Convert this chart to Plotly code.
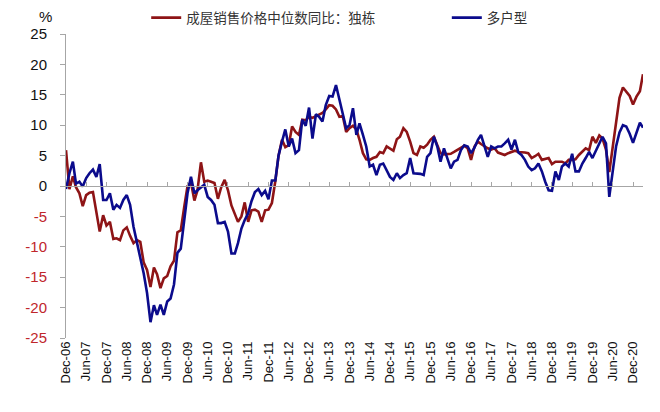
import pandas as pd
import plotly.graph_objects as go

months = pd.date_range("2006-12-01", "2021-03-01", freq="MS")

single_family = [
    5.9, -0.5, 1.6, -0.2, -1.2, -3.3, -1.5, -1.1, -1.0, -4.3, -7.5, -4.8,
    -6.5, -5.9, -8.7, -8.6, -8.9, -7.3, -6.8, -8.2, -9.4, -8.9, -9.2, -12.6,
    -13.8, -16.6, -13.4, -14.5, -16.8, -15.2, -14.8, -13.2, -12.3, -7.6, -7.3, -3.5,
    0.0, 0.6, -2.4, -0.7, 3.9, 0.7, 0.9, 0.7, 0.5, -2.1, -0.2, 1.0,
    -0.7, -3.2, -4.6, -5.9, -5.0, -2.7, -5.9, -4.0, -3.9, -4.2, -5.9, -4.0,
    -3.9, -2.8, 0.8, 5.0, 7.6, 6.4, 6.7, 9.8, 8.9, 8.4, 10.9, 10.8,
    11.4, 11.2, 11.5, 11.7, 12.0, 12.6, 13.3, 13.2, 12.6, 11.4, 11.5, 8.9,
    9.5, 9.9, 9.3, 7.6, 5.4, 4.4, 4.3, 4.6, 4.8, 5.6, 5.4, 6.5,
    6.1, 5.8, 7.7, 8.1, 9.5, 8.9, 7.3, 5.4, 5.1, 6.5, 6.3, 6.8,
    7.6, 8.1, 6.7, 5.4, 5.2, 5.2, 5.3, 5.6, 5.9, 6.3, 6.6, 6.2,
    4.3, 6.5, 7.3, 6.9, 6.5, 6.2, 6.0, 6.2, 5.5, 5.3, 5.1, 5.4,
    5.6, 5.8, 5.6, 5.6, 5.5, 5.4, 4.6, 4.9, 5.3, 4.3, 4.4, 4.6,
    3.6, 4.0, 4.0, 4.0, 3.7, 4.3, 4.3, 4.4, 5.1, 5.6, 6.2, 5.9,
    8.1, 7.1, 8.3, 7.8, 6.0, 2.3, 6.5, 10.5, 14.5, 16.2, 15.6, 14.8,
    13.4, 14.7, 15.6, 18.4,
]

multi_family = [
    -0.5, 2.1, 4.0, 0.4, 0.7, -0.1, 1.3, 2.1, 2.7, 1.5, 3.6, -2.3,
    -2.3, -1.2, -3.9, -3.1, -3.6, -2.3, -1.5, -3.1, -6.7, -9.4, -11.6, -14.4,
    -17.6, -22.4, -19.6, -21.2, -19.5, -21.2, -19.0, -18.5, -16.2, -11.0, -10.3, -5.8,
    -1.2, 1.5, -1.2, -0.7, -0.3, 0.2, -1.8, -2.3, -3.1, -6.1, -6.1, -5.9,
    -7.5, -11.1, -11.1, -9.4, -7.0, -5.6, -4.5, -2.5, -1.0, -0.5, -1.5, -0.8,
    -2.2, 0.9, 0.9, 5.0, 7.3, 9.3, 6.5, 7.8, 5.4, 5.9, 10.9, 9.9,
    12.9, 7.8, 11.8, 11.4, 10.6, 13.3, 14.8, 14.7, 16.6, 14.2, 12.0, 9.5,
    10.0, 12.8, 8.4, 10.3, 8.4, 6.5, 3.2, 3.5, 1.8, 3.5, 3.7, 2.6,
    1.5, 1.0, 2.1, 1.3, 1.8, 2.1, 4.6, 2.1, 2.1, 2.0, 1.8, 4.8,
    5.4, 8.1, 6.5, 4.0, 6.2, 4.6, 2.9, 4.0, 4.3, 5.9, 6.7, 6.5,
    5.4, 6.3, 7.6, 8.4, 6.5, 4.8, 6.5, 6.2, 6.5, 6.5, 7.0, 7.6,
    6.0, 7.6, 5.5, 5.1, 4.3, 3.2, 2.6, 2.9, 3.7, 2.4, 0.7, -0.7,
    -0.8, 2.4, 1.0, 3.2, 3.7, 3.2, 5.3, 2.4, 2.4, 3.7, 4.6, 5.6,
    4.6, 5.9, 7.0, 8.1, 7.0, -1.8, 2.6, 6.5, 8.8, 10.0, 9.8, 8.6,
    7.1, 8.6, 10.4, 9.6,
]

series_names = ["成屋销售价格中位数同比：独栋", "多户型"]
tick_dates = months[::6]
tick_labels = [d.strftime("%b-%y") for d in tick_dates]
y_ticks = [25, 20, 15, 10, 5, 0, -5, -10, -15, -20, -25]
y_labels = [str(v) if v >= 0 else f'<span style="color:#C0262B">{v}</span>' for v in y_ticks]

RED = "#8E1416"
BLUE = "#0B0B8C"

fig = go.Figure()
fig.add_trace(go.Scatter(x=months, y=single_family, mode="lines", name=series_names[0],
                         line=dict(color=RED, width=2.6), legend="legend"))
fig.add_trace(go.Scatter(x=months, y=multi_family, mode="lines", name=series_names[1],
                         line=dict(color=BLUE, width=2.6), legend="legend2"))
# zero-line axis carrying the tick marks
fig.add_trace(go.Scatter(x=[months[0], months[-1]], y=[None, None], xaxis="x2",
                         showlegend=False, hoverinfo="skip"))

legend_font = dict(family="Noto Sans CJK SC", size=13.5, color="#333333")
xr = [months[0], months[-1]]
fig.update_layout(
    width=652, height=404,
    margin=dict(l=58, r=17, t=26, b=74, autoexpand=False),
    paper_bgcolor="white", plot_bgcolor="white",
    font=dict(family="Liberation Sans, Arial, sans-serif", size=14, color="#111111"),
    xaxis=dict(range=xr, tickvals=list(tick_dates), ticktext=tick_labels, tickangle=-90,
               showgrid=False, zeroline=False, showline=False, ticks="",
               tickfont=dict(size=13, color="#111111")),
    xaxis2=dict(range=xr, overlaying="x", anchor="free", position=0.5,
                tickvals=list(tick_dates), showticklabels=False, showgrid=False,
                zeroline=False, showline=True, linecolor="#A6A6A6", linewidth=1,
                ticks="inside", ticklen=4, tickcolor="#A6A6A6"),
    yaxis=dict(range=[-25, 25], tickvals=y_ticks, ticktext=y_labels, showgrid=False,
               zeroline=False, showline=True, linecolor="#A6A6A6", linewidth=1,
               ticks="outside", ticklen=5, tickcolor="#A6A6A6", ticklabelstandoff=10,
               tickfont=dict(size=15, color="#111111")),
    legend=dict(orientation="h", x=0.139, y=1.053, xanchor="left", yanchor="middle",
                font=legend_font, itemwidth=30, bgcolor="rgba(0,0,0,0)"),
    legend2=dict(orientation="h", x=0.660, y=1.053, xanchor="left", yanchor="middle",
                 font=legend_font, itemwidth=30, bgcolor="rgba(0,0,0,0)"),
    showlegend=True,
    annotations=[dict(text="%", xref="paper", yref="paper", x=-0.036, y=1.058,
                      xanchor="center", yanchor="middle", showarrow=False,
                      font=dict(size=15, color="#111111"))],
)

fig.write_html("out.html")
